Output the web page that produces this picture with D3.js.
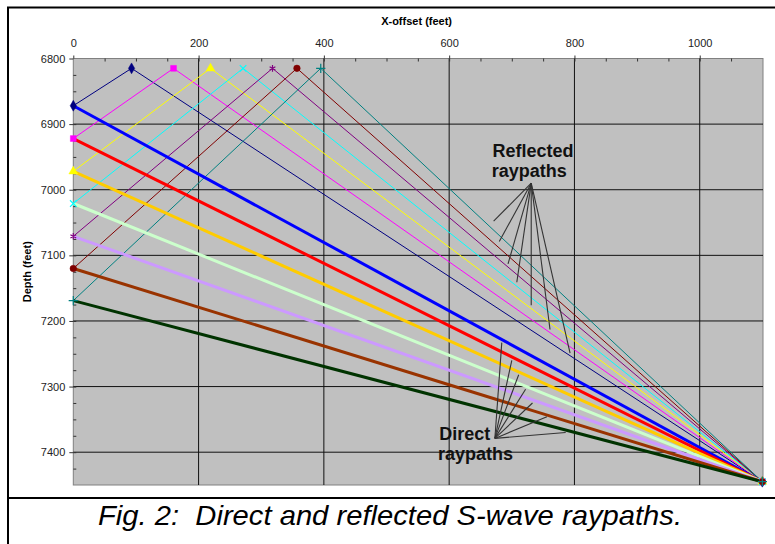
<!DOCTYPE html>
<html>
<head>
<meta charset="utf-8">
<script src="https://cdn.jsdelivr.net/npm/d3@7/dist/d3.min.js"></script>
<style>
  body { margin: 0; background: #fff; }
  svg { display: block; font-family: "Liberation Sans", Arial, sans-serif; }
  .axis text { font-size: 11px; fill: #222; }
  .axis .domain { stroke: #808080; }
  .axis line { stroke: #333; }
</style>
</head>
<body>
<div id="chart"></div>
<script>
// receivers in the well (x = 0), one per series
var receiverDepths = [6872, 6922, 6972, 7021, 7071, 7120, 7169];
// reflection points on the upper interface
var bounceOffsets = [93, 160, 219, 271, 318, 357, 395];
var bounceDepth = 6815;
// surface source at the far right
var sourceOffset = 1100;
var sourceDepth = 7445;

var reflectedColors = ["#000080", "#FF00FF", "#FFFF00", "#00FFFF", "#800080", "#800000", "#008080"];
var directColors = ["#0000FF", "#FF0000", "#FFCC00", "#CCFFCC", "#CC99FF", "#993300", "#003300"];
var markerTypes = ["diamond", "square", "triangle", "x", "star", "circle", "plus"];

var xTicks = [0, 200, 400, 600, 800, 1000];
var yTicks = [6800, 6900, 7000, 7100, 7200, 7300, 7400];
var xDomain = [0, 1101];
var yDomain = [6800, 7450];

// leader lines for the two notes, in data units: [x, depth]
var reflectedNote = { origin: [731, 6990], ends: [[671, 7048], [680, 7079], [694, 7113], [708, 7141], [731, 7176], [761, 7213], [793, 7249]] };
var directNote = { origin: [673, 7379], ends: [[684, 7233], [700, 7260], [711, 7282], [722, 7304], [733, 7325], [756, 7346], [786, 7370]] };

RaypathChart = function(_parentElement){
    this.parentElement = _parentElement;
    this.initVis();
}

RaypathChart.prototype.initVis = function(){
    var vis = this;

    vis.margin = { top: 58.5, right: 12, bottom: 59, left: 73.3 };
    vis.width = 775 - vis.margin.left - vis.margin.right;
    vis.height = 544 - vis.margin.top - vis.margin.bottom;

    vis.root = d3.select("#" + vis.parentElement).append("svg")
        .attr("width", 775)
        .attr("height", 544);

    // frame lines of the figure
    vis.root.append("line").attr("x1", 7).attr("x2", 775).attr("y1", 7.5).attr("y2", 7.5)
        .attr("stroke", "#000").attr("stroke-width", 2);
    vis.root.append("line").attr("x1", 8).attr("x2", 8).attr("y1", 7).attr("y2", 544)
        .attr("stroke", "#000").attr("stroke-width", 2);
    vis.root.append("line").attr("x1", 8).attr("x2", 775).attr("y1", 498).attr("y2", 498)
        .attr("stroke", "#000").attr("stroke-width", 2);

    vis.root.append("text")
        .attr("x", 390).attr("y", 525)
        .attr("text-anchor", "middle")
        .attr("font-size", 28)
        .attr("textLength", 584)
        .attr("lengthAdjust", "spacingAndGlyphs")
        .attr("font-style", "italic")
        .attr("fill", "#000")
        .text("Fig. 2:\u00a0 Direct and reflected S-wave raypaths.");

    vis.svg = vis.root.append("g")
        .attr("transform", "translate(" + vis.margin.left + "," + vis.margin.top + ")");

    vis.x = d3.scaleLinear().domain(xDomain).range([0, vis.width]);
    vis.y = d3.scaleLinear().domain(yDomain).range([0, vis.height]);

    vis.updateVis();
}

RaypathChart.prototype.updateVis = function(){
    var vis = this;

    // plot area
    vis.svg.append("rect")
        .attr("width", vis.width).attr("height", vis.height)
        .attr("fill", "#C0C0C0").attr("stroke", "#808080");

    // gridlines
    vis.svg.selectAll(".xgrid").data(xTicks.slice(1)).enter().append("line")
        .attr("class", "xgrid")
        .attr("x1", function(d){ return vis.x(d); }).attr("x2", function(d){ return vis.x(d); })
        .attr("y1", 0).attr("y2", vis.height)
        .attr("stroke", "#111");
    vis.svg.selectAll(".ygrid").data(yTicks.slice(1)).enter().append("line")
        .attr("class", "ygrid")
        .attr("x1", 0).attr("x2", vis.width)
        .attr("y1", function(d){ return vis.y(d); }).attr("y2", function(d){ return vis.y(d); })
        .attr("stroke", "#111");

    // axes
    var fmt = d3.format("d");
    vis.svg.append("g").attr("class", "axis")
        .call(d3.axisTop(vis.x).tickValues(xTicks).tickFormat(fmt).tickSizeInner(3).tickSizeOuter(0).tickPadding(9))
        .select(".domain").remove();
    vis.svg.append("g").attr("class", "axis")
        .call(d3.axisTop(vis.x).tickValues(d3.range(50, 1100, 50)).tickSizeInner(-3).tickSizeOuter(0).tickFormat(""))
        .select(".domain").remove();
    vis.svg.append("g").attr("class", "axis")
        .call(d3.axisLeft(vis.y).tickValues(yTicks).tickFormat(fmt).tickSizeInner(4).tickSizeOuter(0).tickPadding(4))
        .select(".domain").remove();
    vis.svg.append("g").attr("class", "axis")
        .call(d3.axisLeft(vis.y).tickValues(d3.range(6825, 7450, 25)).tickSizeInner(-3).tickSizeOuter(0).tickFormat(""))
        .select(".domain").remove();

    vis.svg.append("text")
        .attr("x", vis.x(548)).attr("y", -34)
        .attr("text-anchor", "middle")
        .attr("font-size", 11).attr("font-weight", "bold")
        .text("X-offset (feet)");

    vis.svg.append("text")
        .attr("transform", "translate(-42," + vis.y(7125) + ") rotate(-90)")
        .attr("text-anchor", "middle")
        .attr("font-size", 11).attr("font-weight", "bold")
        .text("Depth (feet)");

    // reflected raypaths: receiver -> bounce point -> source
    var reflected = receiverDepths.map(function(d, i){
        return [[0, d], [bounceOffsets[i], bounceDepth], [sourceOffset, sourceDepth]];
    });
    var line = d3.line()
        .x(function(d){ return vis.x(d[0]); })
        .y(function(d){ return vis.y(d[1]); });

    vis.svg.selectAll(".reflected").data(reflected).enter().append("path")
        .attr("class", "reflected")
        .attr("d", line)
        .attr("fill", "none")
        .attr("stroke", function(d, i){ return reflectedColors[i]; })
        .attr("stroke-width", 1);

    // direct raypaths: receiver -> source
    var direct = receiverDepths.map(function(d){
        return [[0, d], [sourceOffset, sourceDepth]];
    });
    vis.svg.selectAll(".direct").data(direct).enter().append("path")
        .attr("class", "direct")
        .attr("d", line)
        .attr("fill", "none")
        .attr("stroke", function(d, i){ return directColors[i]; })
        .attr("stroke-width", 3);

    // markers
    var symbolFor = {
        diamond: d3.symbolDiamond, square: d3.symbolSquare, triangle: d3.symbolTriangle,
        x: d3.symbolX, star: d3.symbolAsterisk, circle: d3.symbolCircle, plus: d3.symbolPlus
    };
    var filled = { diamond: true, square: true, triangle: true, circle: true };
    reflected.forEach(function(pts, i){
        var type = markerTypes[i];
        var sym = d3.symbol().type(symbolFor[type]).size(filled[type] ? 34 : 30);
        vis.svg.selectAll(".marker" + i).data(pts).enter().append("path")
            .attr("class", "marker" + i)
            .attr("transform", function(d){ return "translate(" + vis.x(d[0]) + "," + vis.y(d[1]) + ")"; })
            .attr("d", sym)
            .attr("fill", filled[type] ? reflectedColors[i] : "none")
            .attr("stroke", reflectedColors[i])
            .attr("stroke-width", filled[type] ? 0.5 : 1.2);
    });

    // annotations
    [reflectedNote, directNote].forEach(function(note){
        vis.svg.append("g").selectAll("line").data(note.ends).enter().append("line")
            .attr("x1", vis.x(note.origin[0])).attr("y1", vis.y(note.origin[1]))
            .attr("x2", function(d){ return vis.x(d[0]); })
            .attr("y2", function(d){ return vis.y(d[1]); })
            .attr("stroke", "#333").attr("stroke-width", 1.1);
    });

    var notes = [
        { text: "Reflected", at: [669, 6950] },
        { text: "raypaths", at: [668, 6981] },
        { text: "Direct", at: [584, 7381] },
        { text: "raypaths", at: [582, 7412] }
    ];
    vis.svg.selectAll(".note").data(notes).enter().append("text")
        .attr("class", "note")
        .attr("x", function(d){ return vis.x(d.at[0]); })
        .attr("y", function(d){ return vis.y(d.at[1]); })
        .attr("font-size", 18).attr("font-weight", "bold")
        .attr("fill", "#111")
        .text(function(d){ return d.text; });
}

var chart = new RaypathChart("chart");
</script>
</body>
</html>
